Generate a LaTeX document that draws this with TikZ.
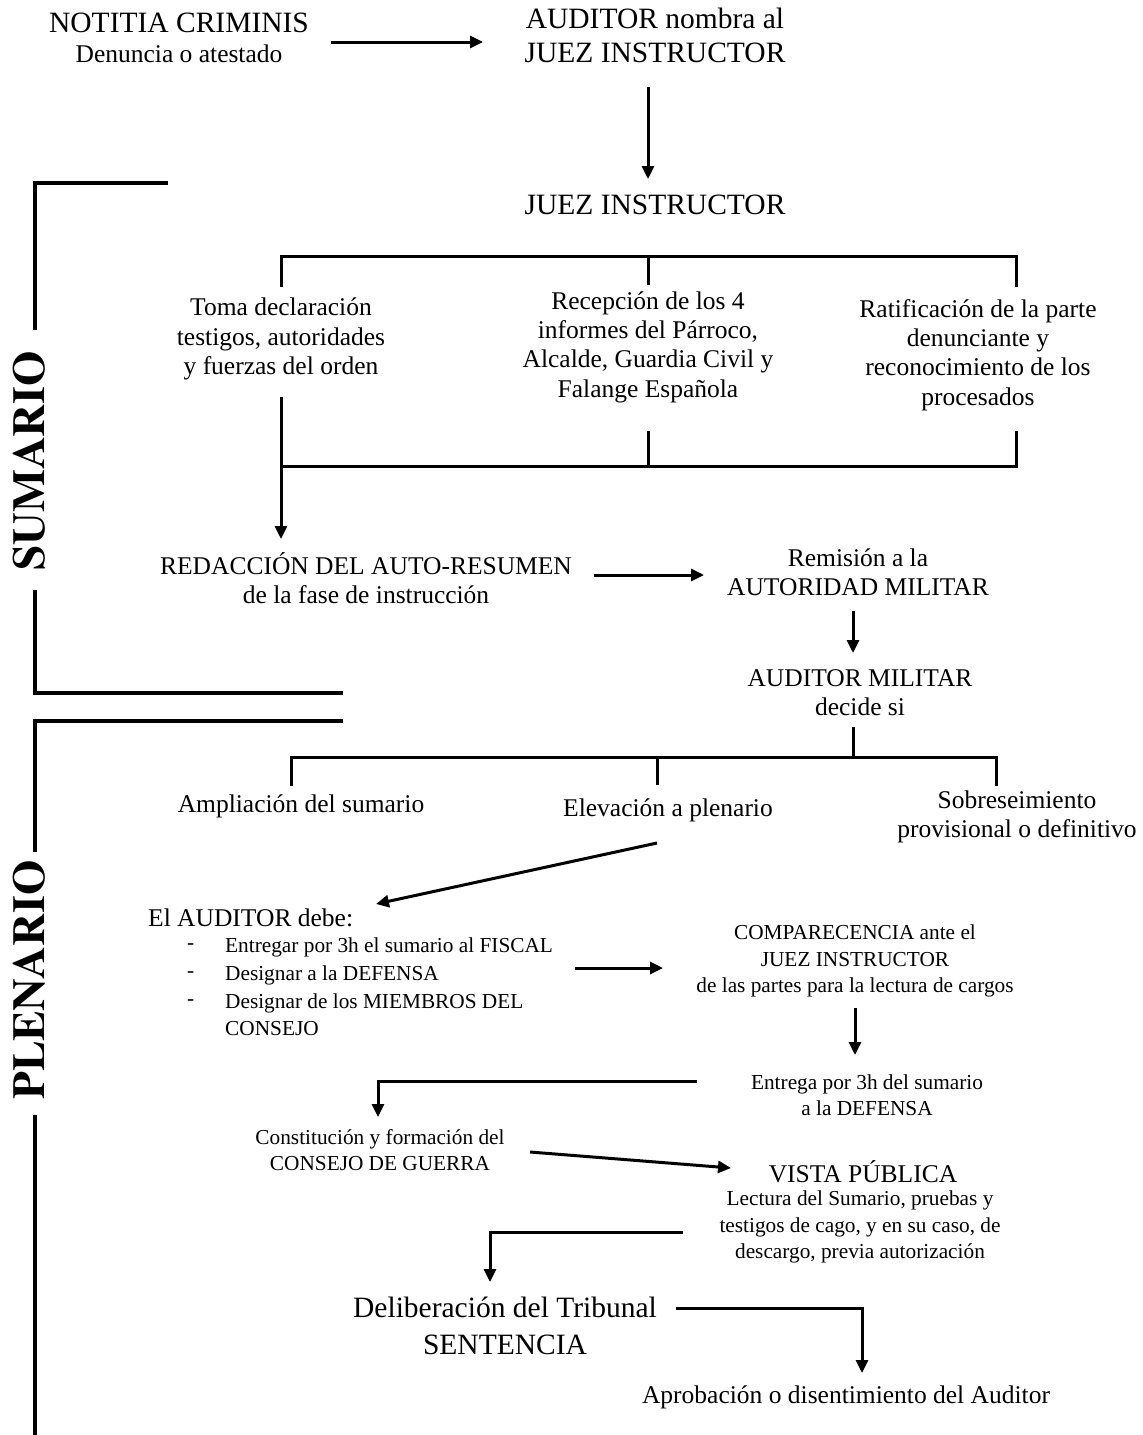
\documentclass[tikz,border=0pt]{standalone}
\usepackage[T1]{fontenc}
\usepackage{fontspec}
\setmainfont{Liberation Serif}
\usetikzlibrary{arrows.meta}
\newcommand\fA{\fontsize{29.5}{34}\selectfont}
\newcommand\fB{\fontsize{25.5}{29.3}\selectfont}
\newcommand\fC{\fontsize{21.3}{26.5}\selectfont}
\newcommand\fD{\fontsize{29.5}{37}\selectfont}
\newcommand\fBig{\fontencoding{T1}\fontfamily{ptm}\fontseries{b}\fontshape{n}\fontsize{45.5}{50}\selectfont}
\tikzset{
  conn/.style={line width=3pt},
  arr/.style={line width=3pt,-{Triangle[length=13pt,width=12pt]}},
  brk/.style={line width=4pt},
  txt/.style={inner sep=0pt,align=center,font=\fB},
}
\begin{document}
\begin{tikzpicture}[x=1pt,y=-1pt]
\useasboundingbox (0,0) rectangle (1143,1435);
% ---- text nodes
\node[txt] (notitia) at (179,38) {{\fA NOTITIA CRIMINIS}\\{\fB Denuncia o atestado}};
\node[txt,font=\fA] (aud1) at (655,35) {AUDITOR nombra al\\JUEZ INSTRUCTOR};
\node[txt,font=\fA] (juez) at (655,205) {JUEZ INSTRUCTOR};
\node[txt] (toma) at (281,339) {Toma declaración\\testigos, autoridades\\y fuerzas del orden};
\node[txt] (recep) at (648,347) {Recepción de los 4\\informes del Párroco,\\Alcalde, Guardia Civil y\\Falange Española};
\node[txt] (ratif) at (978,355) {Ratificación de la parte\\denunciante y\\reconocimiento de los\\procesados};
\node[txt] (redac) at (366,578) {REDACCIÓN DEL AUTO-RESUMEN\\de la fase de instrucción};
\node[txt] (remis) at (858,572) {Remisión a la\\AUTORIDAD MILITAR};
\node[txt] (audmil) at (860,693) {AUDITOR MILITAR\\decide si};
\node[txt] (ampl) at (301,806) {Ampliación del sumario};
\node[txt] (elev) at (668,810) {Elevación a plenario};
\node[txt] (sobre) at (1017,817) {Sobreseimiento\\provisional o definitivo};
\node[txt,anchor=west] (debe) at (148,918) {El AUDITOR debe:};
\node[txt,font=\fC,anchor=west] (d1) at (187,947) {-};
\node[txt,font=\fC,anchor=west] (d2) at (187,975) {-};
\node[txt,font=\fC,anchor=west] (d3) at (187,1003) {-};
\node[txt,font=\fC,anchor=west] (b1) at (225,947) {Entregar por 3h el sumario al FISCAL};
\node[txt,font=\fC,anchor=west] (b2) at (225,975) {Designar a la DEFENSA};
\node[txt,font=\fC,anchor=west] (b3) at (225,1003) {Designar de los MIEMBROS DEL};
\node[txt,font=\fC,anchor=west] (b4) at (225,1029) {CONSEJO};
\node[txt,font=\fC] (compar) at (855,961) {COMPARECENCIA ante el\\JUEZ INSTRUCTOR\\de las partes para la lectura de cargos};
\node[txt,font=\fC] (entrega) at (867,1095) {Entrega por 3h del sumario\\a la DEFENSA};
\node[txt,font=\fC] (constit) at (380,1150) {Constitución y formación del\\CONSEJO DE GUERRA};
\node[txt] (vista) at (863,1172) {VISTA PÚBLICA};
\node[txt,font=\fC] (lectura) at (860,1227) {Lectura del Sumario, pruebas y\\testigos de cago, y en su caso, de\\descargo, previa autorización};
\node[txt,font=\fD] (delib) at (505,1326) {Deliberación del Tribunal\\SENTENCIA};
\node[txt] (aprob) at (846,1397) {Aprobación o disentimiento del Auditor};
\node[inner sep=0pt,font=\fBig,rotate=90] (sumario) at (29,461) {SUMARIO};
\node[inner sep=0pt,font=\fBig,rotate=90] (plenario) at (29,980) {PLENARIO};
% ---- coordinates
\coordinate (a1s) at (331,42);  \coordinate (a1e) at (483,42);
\coordinate (a2s) at (648,87);  \coordinate (a2e) at (648,179);
\coordinate (t1l) at (281,287); \coordinate (t1c) at (648,285); \coordinate (t1r) at (1016,287);
\coordinate (t1y) at (0,256);
\coordinate (t2l) at (281,397); \coordinate (t2le) at (281,539);
\coordinate (t2c) at (648,431); \coordinate (t2r) at (1016,431);
\coordinate (t2y) at (0,466);
\coordinate (a3s) at (594,575); \coordinate (a3e) at (704,575);
\coordinate (a4s) at (853,611); \coordinate (a4e) at (853,653);
\coordinate (t3s) at (853,727); \coordinate (t3y) at (0,757);
\coordinate (t3l) at (291,786); \coordinate (t3c) at (657,785); \coordinate (t3r) at (996,786);
\coordinate (a5s) at (657,843); \coordinate (a5e) at (376,904);
\coordinate (a6s) at (575,968); \coordinate (a6e) at (663,968);
\coordinate (a7s) at (855,1008); \coordinate (a7e) at (855,1055);
\coordinate (a8s) at (697,1081); \coordinate (a8e) at (378,1117);
\coordinate (a9s) at (530,1152); \coordinate (a9e) at (731,1168);
\coordinate (a10s) at (683,1232); \coordinate (a10e) at (490,1282);
\coordinate (a11s) at (676,1308); \coordinate (a11e) at (862,1373);
\coordinate (s1) at (168,183); \coordinate (s2) at (35,330);
\coordinate (s3) at (35,590); \coordinate (s4) at (343,693);
\coordinate (p1) at (343,721); \coordinate (p2) at (35,852);
\coordinate (p3) at (35,1115); \coordinate (p4) at (35,1435);
% ---- connectors
\draw[arr] (a1s) -- (a1e);
\draw[arr] (a2s) -- (a2e);
\draw[conn] (t1l) |- (t1y -| t1r) -- (t1r);
\draw[conn] (t1c) -- (t1c |- t1y);
\draw[arr] (t2l) -- (t2le);
\draw[conn] (t2l |- t2y) -| (t2r);
\draw[conn] (t2c) -- (t2c |- t2y);
\draw[arr] (a3s) -- (a3e);
\draw[arr] (a4s) -- (a4e);
\draw[conn] (t3s) -- (t3s |- t3y);
\draw[conn] (t3l) |- (t3y -| t3r) -- (t3r);
\draw[conn] (t3c) -- (t3c |- t3y);
\draw[arr] (a5s) -- (a5e);
\draw[arr] (a6s) -- (a6e);
\draw[arr] (a7s) -- (a7e);
\draw[arr] (a8s) -| (a8e);
\draw[arr] (a9s) -- (a9e);
\draw[arr] (a10s) -| (a10e);
\draw[arr] (a11s) -| (a11e);
\draw[brk] (s1) -| (s2);
\draw[brk] (s3) |- (s4);
\draw[brk] (p1) -| (p2);
\draw[brk] (p3) -- (p4);
\end{tikzpicture}
\end{document}
